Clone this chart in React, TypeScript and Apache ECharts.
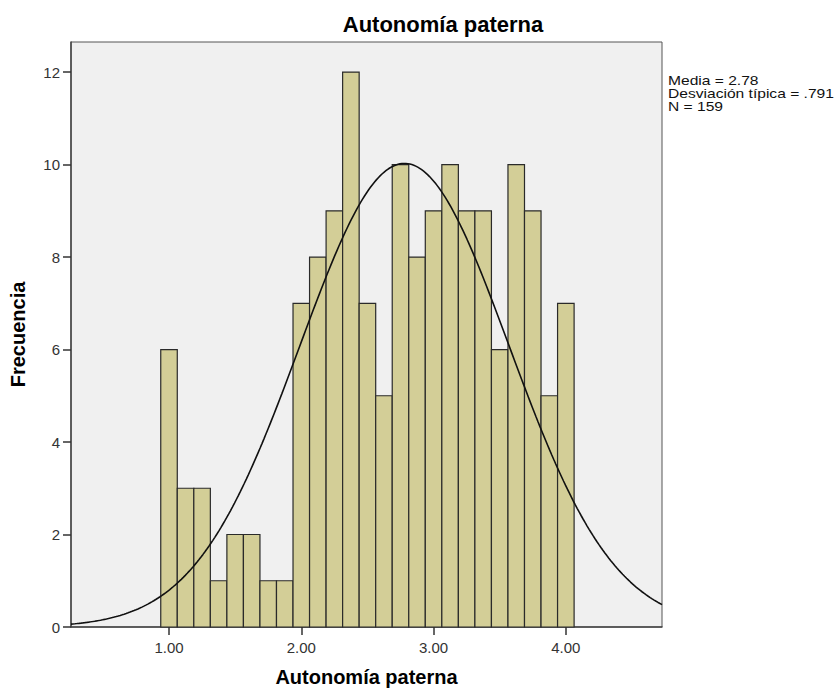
import React, { useEffect, useRef } from "react";
import * as echarts from "echarts";

const binCenters = [1.0, 1.125, 1.25, 1.375, 1.5, 1.625, 1.75, 1.875, 2.0, 2.125, 2.25, 2.375, 2.5, 2.625, 2.75, 2.875, 3.0, 3.125, 3.25, 3.375, 3.5, 3.625, 3.75, 3.875, 4.0];
const frequencies = [6, 3, 3, 1, 2, 2, 1, 1, 7, 8, 9, 12, 7, 5, 10, 8, 9, 10, 9, 9, 6, 10, 9, 5, 7];
const binWidth = 0.125;
const statsMean = 2.78;
const statsSd = 0.791;
const statsN = 159;
const statsLines = ["Media = 2.78", "Desviación típica = .791", "N = 159"];
const xTicks = [1, 2, 3, 4];
const yTicks = [0, 2, 4, 6, 8, 10, 12];
const xMin = 0.259;
const xMax = 4.727;
const yMax = 12.65;

const FONT = "'Liberation Sans', Arial, sans-serif";

export default function App() {
  const ref = useRef<HTMLDivElement>(null);
  useEffect(() => {
    if (!ref.current) return;
    const chart = echarts.init(ref.current, undefined, { renderer: "svg" });
    const curve: number[][] = [];
    const steps = 300;
    for (let i = 0; i <= steps; i++) {
      const x = xMin + ((xMax - xMin) * i) / steps;
      const z = (x - statsMean) / statsSd;
      const y = ((statsN * binWidth) / (statsSd * Math.sqrt(2 * Math.PI))) * Math.exp(-0.5 * z * z);
      curve.push([x, y]);
    }
    const barData = binCenters.map((c, i) => [c, frequencies[i]]);
    chart.setOption({
      animation: false,
      backgroundColor: "#ffffff",
      textStyle: { fontFamily: FONT },
      title: {
        text: "Autonomía paterna",
        left: 438,
        top: 8,
        textAlign: "center",
        textStyle: { fontFamily: FONT, fontSize: 22, fontWeight: "bold", color: "#000" },
      },
      grid: {
        left: 71,
        top: 42,
        width: 591,
        height: 585,
        outerBoundsMode: "none",
        containLabel: false,
        show: true,
        backgroundColor: "#F0F0F0",
        borderColor: "#555",
        borderWidth: 1,
      },
      xAxis: {
        type: "value",
        min: xMin,
        max: xMax,
        name: "Autonomía paterna",
        nameLocation: "middle",
        nameGap: 40,
        nameTextStyle: { fontFamily: FONT, fontSize: 20, fontWeight: "bold", color: "#000" },
        axisLine: { show: true, onZero: false, lineStyle: { color: "#444", width: 1.5 } },
        axisTick: { show: true, length: 8, customValues: xTicks, lineStyle: { color: "#333", width: 1.5 } },
        axisLabel: {
          customValues: xTicks,
          formatter: (v: number) => v.toFixed(2),
          fontFamily: FONT,
          fontSize: 15,
          color: "#333",
          margin: 13,
        },
        splitLine: { show: false },
      },
      yAxis: {
        type: "value",
        min: 0,
        max: yMax,
        name: "Frecuencia",
        nameLocation: "middle",
        nameRotate: 90,
        nameGap: 43,
        nameTextStyle: { fontFamily: FONT, fontSize: 20, fontWeight: "bold", color: "#000" },
        axisLine: { show: true, lineStyle: { color: "#444", width: 1.5 } },
        axisTick: { show: true, length: 8, customValues: yTicks, lineStyle: { color: "#333", width: 1.5 } },
        axisLabel: {
          customValues: yTicks,
          fontFamily: FONT,
          fontSize: 15,
          color: "#333",
          margin: 11,
        },
        splitLine: { show: false },
      },
      graphic: statsLines.map((t, i) => ({
        type: "text",
        left: 668,
        top: 74 + i * 13,
        scaleX: 1.2,
        style: {
          text: t,
          font: `13px ${FONT}`,
          fill: "#111",
        },
      })),
      series: [
        {
          type: "custom",
          data: barData,
          renderItem: (params: any, api: any) => {
            const c = api.value(0);
            const v = api.value(1);
            const p0 = api.coord([c - binWidth / 2, v]);
            const p1 = api.coord([c + binWidth / 2, 0]);
            return {
              type: "rect",
              shape: { x: p0[0], y: p0[1], width: p1[0] - p0[0], height: p1[1] - p0[1] },
              style: { fill: "#D3CE97", stroke: "#2a2a2a", lineWidth: 1.2 },
            };
          },
          z: 2,
        },
        {
          type: "line",
          data: curve,
          showSymbol: false,
          symbol: "none",
          lineStyle: { color: "#111", width: 1.6 },
          z: 3,
        },
      ],
    });
    return () => chart.dispose();
  }, []);
  return (
    <div
      ref={ref}
      style={{ position: "absolute", left: 0, top: 0, width: 835, height: 689 }}
    />
  );
}
